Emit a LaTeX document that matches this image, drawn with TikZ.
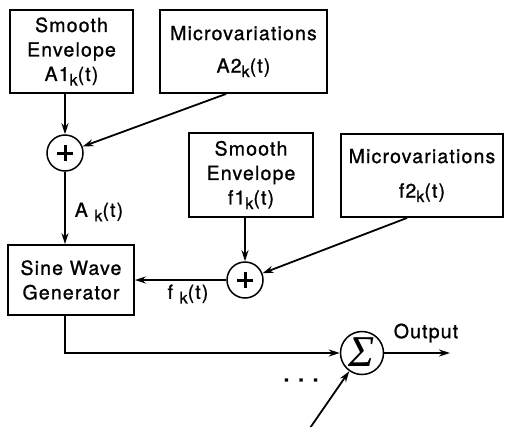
\documentclass[tikz,border=0pt]{standalone}
\usepackage{fontspec}
\setmainfont{TeX Gyre Heros}[LetterSpace=6,FakeBold=1]
\newfontfamily\sigfont{Liberation Serif}
\usetikzlibrary{arrows.meta}
\newcommand\subk{\raisebox{-0.45ex}{\fontsize{16}{16}\selectfont k}}
\begin{document}
\begin{tikzpicture}[x=1pt,y=-1pt,line width=1.8pt,
  box/.style={draw,rectangle,inner sep=0pt,align=center,font=\fontsize{19.5}{24.5}\selectfont},
  sumc/.style={draw,circle,minimum size=36pt,inner sep=0pt,line width=1.5pt},
  arr/.style={-{Stealth[length=11pt,width=7pt]}},
  lbl/.style={font=\fontsize{19.5}{22}\selectfont}]
\useasboundingbox (0,0) rectangle (505,426);
% boxes
\node[box,minimum width=123,minimum height=83] (b1) at (71.5,51.5) {Smooth\\Envelope\\A1\subk(t)};
\node[box,minimum width=167,minimum height=83] (b2) at (243.5,51.5) {Microvariations\\[8pt]A2\subk(t)};
\node[box,minimum width=124,minimum height=84] (b3) at (251,175) {Smooth\\Envelope\\f1\subk(t)};
\node[box,minimum width=162,minimum height=83] (b4) at (422,175.5) {Microvariations\\[10pt]f2\subk(t)};
\node[box,minimum width=126,minimum height=70] (sine) at (71,280) {Sine Wave\\Generator};
% summing junctions
\node[sumc] (p1) at (65,153) {};
\draw[line width=3pt] ([xshift=-8pt]p1.center) -- ([xshift=8pt]p1.center) ([yshift=-8pt]p1.center) -- ([yshift=8pt]p1.center);
\node[sumc] (p2) at (245,280) {};
\draw[line width=3pt] ([xshift=-8pt]p2.center) -- ([xshift=8pt]p2.center) ([yshift=-8pt]p2.center) -- ([yshift=8pt]p2.center);
\node[sumc,minimum size=43pt] (sig) at (362,353) {};
\node[font=\sigfont\itshape\fontsize{44}{44}\selectfont,inner sep=0pt] at ([yshift=1pt]sig.center) {Σ};
% connectors
\draw[arr] (b1.south -| p1) -- (p1);
\draw[arr] ([xshift=67pt]b2.south west) -- (p1);
\draw[arr] (p1) -- (p1 |- sine.north);
\draw[arr] (b3.south -| p2) -- (p2);
\draw[arr] ([xshift=67pt]b4.south west) -- (p2);
\draw[arr] (p2) -- (sine.east |- p2);
\draw[arr] (sine.south -| p1) |- (sig.west);
\coordinate (out) at (450,353);
\draw[arr] (sig.east) -- (out);
\coordinate (in) at (310,428);
\draw[arr] (in) -- (sig.235);
% labels
\node[lbl] (la) at (99,212) {A \subk(t)};
\node[lbl] (lf) at (188,294) {f \subk(t)};
\node[lbl] (lo) at (426,333) {Output};
\node[font=\fontsize{20}{20}\selectfont\bfseries] (dots) at (301,380) {.\hspace{9pt}.\hspace{9pt}.};
\end{tikzpicture}
\end{document}
